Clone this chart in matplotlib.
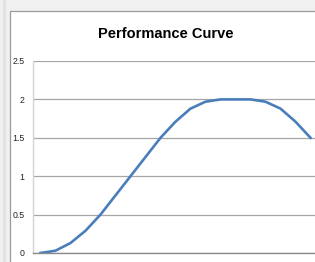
import matplotlib
matplotlib.use("Agg")
import matplotlib.pyplot as plt
from matplotlib.patches import Rectangle

title = "Performance Curve"
categories = list(range(1, 20))
values = [0, 0.03, 0.13, 0.29, 0.5, 0.75, 1.0, 1.25, 1.5, 1.71, 1.88, 1.97,
          2.0, 2.0, 2.0, 1.97, 1.88, 1.71, 1.5]
yticks = [0, 0.5, 1, 1.5, 2, 2.5]
ytick_labels = ["0", "0.5", "1", "1.5", "2", "2.5"]

W, H = 315, 262
fig = plt.figure(figsize=(W / 100, H / 100), dpi=100, facecolor="#f0f0f0")

# window chrome
fig.patches.append(Rectangle((3 / W, 0), 3 / W, 1, transform=fig.transFigure,
                             facecolor="#e2e2e2", edgecolor="none", zorder=-2))
fig.patches.append(Rectangle((9.5 / W, -0.1), 1.2, 1 - 11.5 / H + 0.1,
                             transform=fig.transFigure, facecolor="white",
                             edgecolor="#9a9a9a", linewidth=0.9, zorder=-1))

ax = fig.add_axes([33 / W, 9 / H, 285 / W, 192 / H])
ax.set_zorder(2)
ax.set_facecolor("none")
x = list(range(len(categories)))
ax.plot(x, values, color="#4a7ebb", linewidth=1.9, solid_joinstyle="round")
ax.set_xlim(-0.5, len(categories) - 0.5)
ax.set_ylim(0, 2.5)
ax.set_yticks(yticks)
ax.set_yticklabels(ytick_labels, fontsize=6.3, color="#222222",
                   family="Liberation Sans")
ax.set_xticks([])
ax.tick_params(axis="y", length=0, pad=6)
ax.grid(axis="y", color="#a6a6a6", linewidth=0.9)
ax.set_axisbelow(True)
for s in ["top", "right"]:
    ax.spines[s].set_visible(False)
ax.spines["left"].set_color("#d4d4d4")
ax.spines["left"].set_linewidth(1.0)
ax.spines["bottom"].set_color("#8a8a8a")
ax.spines["bottom"].set_linewidth(1.0)

fig.text(166 / W, 1 - 34 / H, title, ha="center", va="center", fontsize=10.5,
         fontweight="bold", family=["Liberation Sans", "DejaVu Sans"],
         color="#000000", zorder=3)

fig.savefig("out.png", dpi=100, facecolor=fig.get_facecolor())
